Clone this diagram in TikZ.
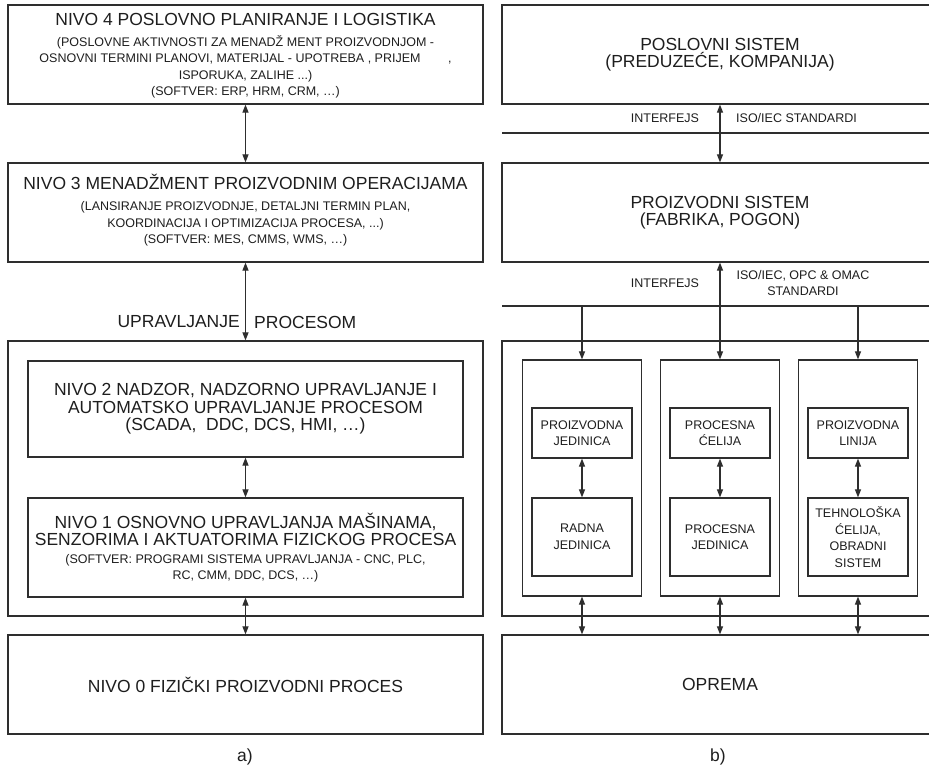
\documentclass[tikz,border=0pt]{standalone}
\usepackage{fontspec}
\setmainfont{Liberation Sans}
\usetikzlibrary{arrows.meta}
\definecolor{linec}{HTML}{2E2E2E}
\definecolor{textc}{HTML}{1E1E1E}
\newcommand\bigf{\fontsize{17.5}{20}\selectfont}
\newcommand\smf{\fontsize{12.5}{16.5}\selectfont}
\newcommand\tl[1]{{\bigf #1}}
\begin{document}
\begin{tikzpicture}[x=1pt,y=-1pt,
  box/.style={draw=linec, line width=1.2pt, inner sep=0pt, align=center, text=textc, font=\smf},
  lbl/.style={inner sep=0pt, align=center, text=textc, font=\smf},
  dbl/.style={{Triangle[length=8pt,width=6pt]}-{Triangle[length=8pt,width=6pt]}, line width=1.1pt, draw=linec},
  sgl/.style={-{Triangle[length=8pt,width=6pt]}, line width=1.1pt, draw=linec},
  sep/.style={line width=1.2pt, draw=linec}]
\clip (0,0) rectangle (929,781);
\fill[white] (0,0) rectangle (929,781);
% ---------------- left column (a) ----------------
\node[box, minimum width=475pt, minimum height=99pt] (b4) at (245.5,54.5) {};
\node[lbl] (t4) at (245.5,56)
 {\tl{NIVO 4 POSLOVNO PLANIRANJE I LOGISTIKA}\\[4pt]
  (POSLOVNE AKTIVNOSTI ZA MENADŽ MENT PROIZVODNJOM -\\
  OSNOVNI TERMINI PLANOVI, MATERIJAL - UPOTREBA , PRIJEM\hspace{2.2em},\\
  ISPORUKA, ZALIHE ...)\\
  (SOFTVER: ERP, HRM, CRM, …)};
\node[box, minimum width=475pt, minimum height=99pt] (b3) at (245.5,212.5) {};
\node[lbl] (t3) at (245.5,210)
 {\tl{NIVO 3 MENADŽMENT PROIZVODNIM OPERACIJAMA}\\[5pt]
  (LANSIRANJE PROIZVODNJE, DETALJNI TERMIN PLAN,\\
  KOORDINACIJA I OPTIMIZACIJA PROCESA, ...)\\
  (SOFTVER: MES, CMMS, WMS, …)};
\node[box, minimum width=475pt, minimum height=275pt] (oL) at (245.5,478.5) {};
\node[box, minimum width=435pt, minimum height=96pt] (b2) at (245.5,409)
 {\tl{NIVO 2 NADZOR, NADZORNO UPRAVLJANJE I}\\[1pt]
  \tl{AUTOMATSKO UPRAVLJANJE PROCESOM}\\[1pt]
  \tl{(SCADA,\ \ DDC, DCS, HMI, …)}};
\node[box, minimum width=435pt, minimum height=99pt] (b1) at (245.5,547.5)
 {\tl{NIVO 1 OSNOVNO UPRAVLJANJA MAŠINAMA,}\\[1pt]
  \tl{SENZORIMA I AKTUATORIMA FIZICKOG PROCESA}\\[1pt]
  (SOFTVER: PROGRAMI SISTEMA UPRAVLJANJA - CNC, PLC,\\
  RC, CMM, DDC, DCS, …)};
\node[box, minimum width=475pt, minimum height=99pt] (b0) at (245.5,684.5)
 {\tl{NIVO 0 FIZIČKI PROIZVODNI PROCES}};
\draw[dbl] (b4.south) -- (b3.north);
\draw[dbl] (b3.south) -- (oL.north);
\draw[dbl] (b2.south) -- (b1.north);
\draw[dbl] (b1.south) -- (b0.north);
\node[lbl, anchor=east] (upr) at (240,322) {\tl{UPRAVLJANJE}};
\node[lbl, anchor=west] (pro) at (254,322) {\tl{PROCESOM}};
\node[lbl] (la) at (245,757) {\tl{a)}};
% ---------------- right column (b) ----------------
\node[box, minimum width=436pt, minimum height=99pt] (r1) at (720,54.5)
 {\tl{POSLOVNI SISTEM}\\[1pt] \tl{(PREDUZEĆE, KOMPANIJA)}};
\draw[sep] (502,133) -- (940,133);
\node[box, minimum width=436pt, minimum height=99pt] (r2) at (720,212.5)
 {\tl{PROIZVODNI SISTEM}\\[1pt] \tl{(FABRIKA, POGON)}};
\draw[sep] (502,306) -- (940,306);
\node[lbl] (if1) at (665,118) {INTERFEJS};
\node[lbl, anchor=west] (st1) at (736,118) {ISO/IEC STANDARDI};
\node[lbl] (if2) at (665,283) {INTERFEJS};
\node[lbl] (st2) at (803,283) {ISO/IEC, OPC \& OMAC\\ STANDARDI};
\node[box, minimum width=436pt, minimum height=275pt] (oR) at (720,478.5) {};
\node[box, minimum width=119pt, minimum height=236pt] (c1) at (582,478) {};
\node[box, minimum width=119pt, minimum height=236pt] (c2) at (720,478) {};
\node[box, minimum width=119pt, minimum height=236pt] (c3) at (858,478) {};
\node[box, minimum width=100pt, minimum height=50pt] (u1) at (582,433) {PROIZVODNA\\ JEDINICA};
\node[box, minimum width=100pt, minimum height=50pt] (u2) at (720,433) {PROCESNA\\ ĆELIJA};
\node[box, minimum width=100pt, minimum height=50pt] (u3) at (858,433) {PROIZVODNA\\ LINIJA};
\node[box, minimum width=100pt, minimum height=78pt] (d1) at (582,537) {RADNA\\ JEDINICA};
\node[box, minimum width=100pt, minimum height=78pt] (d2) at (720,537) {PROCESNA\\ JEDINICA};
\node[box, minimum width=100pt, minimum height=78pt] (d3) at (858,537) {TEHNOLOŠKA\\ ĆELIJA,\\ OBRADNI\\ SISTEM};
\node[box, minimum width=436pt, minimum height=99pt] (opr) at (720,684.5) {\tl{OPREMA}};
\coordinate (i1) at (582,306);
\coordinate (i3) at (858,306);
\draw[dbl] (r1.south) -- (r2.north);
\draw[dbl] (r2.south) -- (c2.north);
\draw[sgl] (i1) -- (c1.north);
\draw[sgl] (i3) -- (c3.north);
\draw[dbl] (u1.south) -- (d1.north);
\draw[dbl] (u2.south) -- (d2.north);
\draw[dbl] (u3.south) -- (d3.north);
\draw[dbl] (c1.south) -- (c1.south |- opr.north);
\draw[dbl] (c2.south) -- (opr.north);
\draw[dbl] (c3.south) -- (c3.south |- opr.north);
\node[lbl] (lb) at (718,757) {\tl{b)}};
\end{tikzpicture}
\end{document}
